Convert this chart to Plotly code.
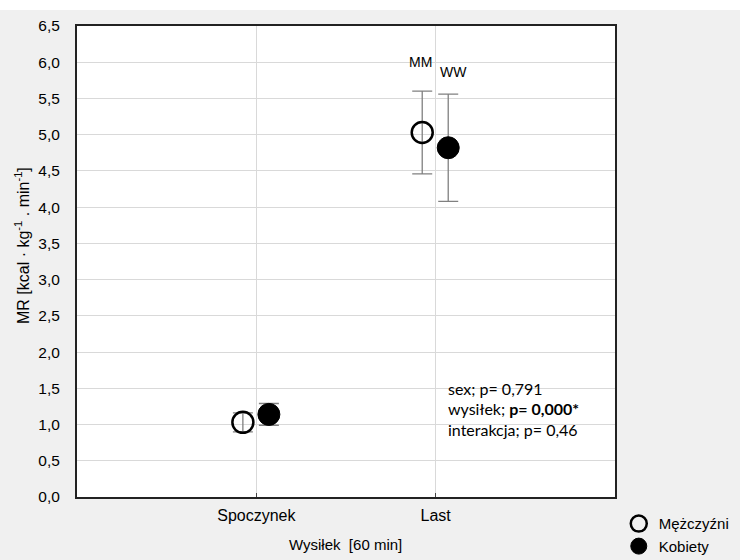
import plotly.graph_objects as go

# Metabolic rate by exercise condition and sex
categories = ["Spoczynek", "Last"]
men_mean = [1.03, 5.03]
men_err = [0.13, 0.57]
women_mean = [1.14, 4.82]
women_err = [0.15, 0.74]
y_ticks = [0, 0.5, 1.0, 1.5, 2.0, 2.5, 3.0, 3.5, 4.0, 4.5, 5.0, 5.5, 6.0, 6.5]
stats_lines = ["sex; p= 0,791", "wysiłek; <b>p= 0,000*</b>", "interakcja; p= 0,46"]
group_labels = [("MM", -0.085, 6.0), ("WW", 0.1, 5.86)]
y_title = "MR [kcal · kg<sup>-1</sup> . min<sup>-1</sup>]"
x_title = "Wysiłek\u00a0\u00a0[60 min]"

x_pos = list(range(len(categories)))
men_x = [x - 0.075 for x in x_pos]
women_x = [x + 0.07 for x in x_pos]

err_style = dict(type="data", visible=True, color="#808080", thickness=1.3, width=10)
FONT = "Arial"

fig = go.Figure()
fig.add_trace(go.Scatter(
    x=men_x, y=men_mean, mode="markers", name="Mężczyźni",
    marker=dict(symbol="circle-open", size=21, color="black",
                line=dict(color="black", width=2.5)),
    error_y=dict(array=men_err, **err_style),
))
fig.add_trace(go.Scatter(
    x=women_x, y=women_mean, mode="markers", name="Kobiety",
    marker=dict(symbol="circle", size=22, color="black",
                line=dict(color="black", width=1)),
    error_y=dict(array=women_err, **err_style),
))

W, H = 740, 560
ml, mr, mt, mb = 77, 125, 26, 63
pw, ph = W - ml - mr, H - mt - mb

# white strip along the top edge of the page
fig.add_shape(type="rect", xref="paper", yref="paper",
              x0=-ml / pw - 0.01, x1=1 + mr / pw + 0.01,
              y0=1 + (mt - 10) / ph, y1=1 + mt / ph + 0.01,
              fillcolor="white", line=dict(width=0), layer="below")

for text, dx, yv in group_labels:
    fig.add_annotation(x=1 + dx, y=yv, text=text, showarrow=False,
                       font=dict(family=FONT, size=14, color="black"))

for i, line in enumerate(stats_lines):
    fig.add_annotation(xref="paper", yref="paper", x=(446 - ml) / pw,
                       y=(497 - 388 - i * 20.5) / ph, xanchor="left", yanchor="middle",
                       text=line, showarrow=False,
                       font=dict(family="Lato", size=16, color="black"))

# axis titles placed as rotated / plain annotations
fig.add_annotation(xref="paper", yref="paper", x=(22 - ml) / pw, y=(497 - 246) / ph,
                   xanchor="center", yanchor="middle", textangle=-90,
                   text=y_title, showarrow=False,
                   font=dict(family=FONT, size=16, color="black"))
fig.add_annotation(xref="paper", yref="paper", x=(345 - ml) / pw, y=(497 - 544) / ph,
                   xanchor="center", yanchor="middle",
                   text=x_title, showarrow=False,
                   font=dict(family=FONT, size=15, color="black"))

fig.update_layout(
    width=W, height=H,
    margin=dict(l=ml, r=mr, t=mt, b=mb, autoexpand=False),
    paper_bgcolor="#f0f0f0", plot_bgcolor="white",
    separators=", ",
    font=dict(family=FONT, size=15, color="black"),
    showlegend=True,
    legend=dict(x=1.007, y=-0.022, xanchor="left", yanchor="top",
                bgcolor="rgba(0,0,0,0)", font=dict(family=FONT, size=15),
                tracegroupgap=0, itemwidth=30),
)
fig.update_xaxes(
    range=[-1, 2], tickvals=x_pos, ticktext=categories,
    showgrid=True, gridcolor="#d9d9d9", gridwidth=1,
    showline=True, linecolor="#222", linewidth=2, mirror=True,
    ticks="inside", ticklen=4, tickcolor="#444", ticklabelstandoff=3,
    zeroline=False, tickfont=dict(size=16), automargin=False,
)
fig.update_yaxes(
    range=[0, 6.5], tickvals=y_ticks, tickformat=".1f",
    showgrid=True, gridcolor="#d9d9d9", gridwidth=1,
    showline=True, linecolor="#222", linewidth=2, mirror=True,
    ticks="outside", ticklen=12, tickcolor="rgba(0,0,0,0)",
    zeroline=False, tickfont=dict(size=15.5), automargin=False,
)

fig.write_html("out.html")
